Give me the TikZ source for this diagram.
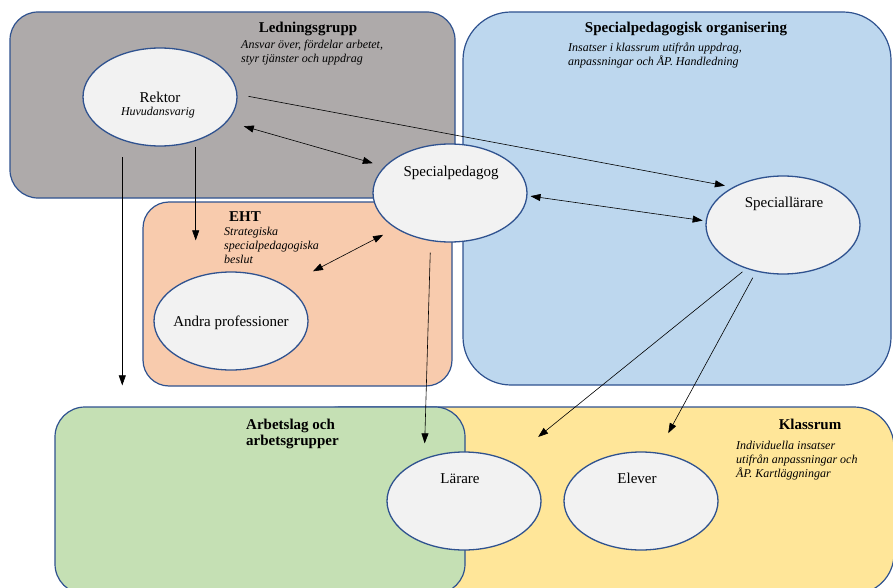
\documentclass[tikz,border=0pt]{standalone}
\usepackage{fontspec}
\setmainfont{Liberation Serif}
\usetikzlibrary{shapes.geometric,arrows.meta}

\begin{document}
\begin{tikzpicture}[x=1pt,y=-1pt,
ruta/.style={draw=kant,line width=1.2pt,rounded corners=#1,inner sep=0pt},
ellips/.style={ellipse,draw=kant,fill=ljus,line width=1.3pt,minimum width=154pt,minimum height=98pt,inner sep=0pt},
rubrik/.style={font=\fontsize{15}{16}\selectfont\bfseries,anchor=base,inner sep=0pt},
kursiv/.style={font=\fontsize{12}{14}\selectfont\itshape,align=left,anchor=base west,inner sep=0pt},
namn/.style={font=\fontsize{15}{18}\selectfont,anchor=base,inner sep=0pt},
pil/.style={-{Triangle[length=10pt,width=7pt]},line width=0.6pt},
dubbelpil/.style={{Triangle[length=10pt,width=7pt]}-{Triangle[length=10pt,width=7pt]},line width=0.6pt}]
\definecolor{kant}{HTML}{2F528F}
\definecolor{gra}{HTML}{AEAAAA}
\definecolor{bla}{HTML}{BDD7EE}
\definecolor{ehtfarg}{HTML}{F8CBAD}
\definecolor{gron}{HTML}{C5E0B4}
\definecolor{gul}{HTML}{FFE699}
\definecolor{ljus}{HTML}{F2F2F2}
\useasboundingbox (0,0) rectangle (893,588);
\clip (0,0) rectangle (893,588);
% grupper
\node[ruta=28pt,fill=gra,minimum width=445pt,minimum height=186pt] (ledning) at (232.5,105) {};
\node[ruta=48pt,fill=bla,minimum width=428pt,minimum height=373pt] (specorg) at (677,198.5) {};
\node[ruta=26pt,fill=ehtfarg,minimum width=309pt,minimum height=184pt] (eht) at (297.5,294) {};
\node[ruta=40pt,fill=gul,minimum width=594pt,minimum height=187pt] (klassrum) at (597,500.5) {};
\node[ruta=30pt,fill=gron,minimum width=410pt,minimum height=187pt] (arbetslag) at (260,500.5) {};
% rubriker (base = sista raden)
\node[rubrik] (ledningtitel) at (308,33) {Ledningsgrupp};
\node[kursiv] (ledningtext) at (241,63) {Ansvar över, fördelar arbetet,\\styr tjänster och uppdrag};
\node[rubrik] (specorgtitel) at (686,33) {Specialpedagogisk organisering};
\node[kursiv] (specorgtext) at (568,66) {Insatser i klassrum utifrån uppdrag,\\anpassningar och ÅP. Handledning};
\node[rubrik] (ehttitel) at (245,221) {EHT};
\node[kursiv] (ehttext) at (224,263) {Strategiska\\specialpedagogiska\\beslut};
\node[rubrik,anchor=base west,align=left] (arbetslagtitel) at (246,445) {Arbetslag och\\arbetsgrupper};
\node[rubrik] (klassrumtitel) at (810,429) {Klassrum};
\node[kursiv] (klassrumtext) at (736,477) {Individuella insatser\\utifrån anpassningar och\\ÅP. Kartläggningar};
% personer
\node[ellips] (rektor) at (160,97) {};
\node[ellips] (sped) at (450,193) {};
\node[ellips] (spll) at (783,225) {};
\node[ellips] (andra) at (231,321) {};
\node[ellips] (larare) at (464,501) {};
\node[ellips] (elever) at (641,501) {};
\node[namn] (rektortext) at (160,103) {Rektor};
\node[namn,font=\fontsize{12}{14}\selectfont\itshape] (rektoransvar) at (158,116) {Huvudansvarig};
\node[namn] (spedtext) at (451,176) {Specialpedagog};
\node[namn] (splltext) at (784,207) {Speciallärare};
\node[namn] (andratext) at (231,326) {Andra professioner};
\node[namn] (lararetext) at (460,483) {Lärare};
\node[namn] (elevertext) at (637,483) {Elever};
% pilar
\draw[pil,shorten <=11pt,shorten >=8pt] (rektor.2.6) -- (spll.143.6);
\draw[dubbelpil,shorten <=17pt,shorten >=12pt] (rektor.-20.1) -- (sped.158.7);
\draw[dubbelpil,shorten <=3pt,shorten >=3pt] (sped.-2.1) -- (spll.177.9);
\draw[pil,shorten <=6pt,shorten >=31pt] (rektor.-51.6) -- (rektor.-51.6 |- andra.north);
\draw[pil,shorten <=17pt,shorten >=21pt] (rektor.229.6) -- (rektor.229.6 |- arbetslag.north);
\draw[dubbelpil,shorten <=31pt,shorten >=14pt] (andra.33.9) -- (sped.213.5);
\draw[pil,shorten <=11.5pt,shorten >=15pt] (sped.248.2) -- (larare.133.1);
\draw[pil,shorten <=5pt,shorten >=37.5pt] (spll.230.3) -- (larare.42.6);
\draw[pil,shorten <=7pt,shorten >=22pt] (spll.240.6) -- (elever.71.9);
\end{tikzpicture}
\end{document}
